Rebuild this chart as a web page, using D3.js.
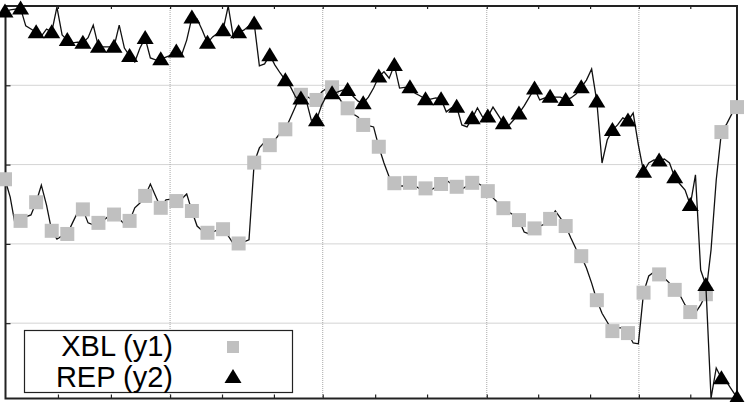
<!DOCTYPE html>
<html>
<head>
<meta charset="utf-8">
<script src="https://cdn.jsdelivr.net/npm/d3@7"></script>
<style>
  body { margin: 0; background: #fff; }
  svg { display: block; }
  text { font-family: "Liberation Sans", Arial, sans-serif; }
</style>
</head>
<body>
<div id="container"></div>
<script>
/* CONSTANTS AND GLOBALS */
const width = 751;
const height = 402;
const plot = { left: 5.5, right: 737, top: 6, bottom: 398.5 };
const pointEvery = 3; // a marker on every 3rd sample, like pointinterval

/* DATA */
const seriesNames = ["XBL (y1)", "REP (y2)"];

const xblValues = [
  56.3, 51.8, 44.5, 45.8, 46.8, 47.3, 50.5, 54.8, 49.8, 43.3, 41.2, 42.0,
  42.5, 45.3, 48.0, 48.7, 45.3, 44.8, 45.3, 46.0, 47.0, 47.4, 46.3, 45.0,
  45.8, 49.1, 50.3, 52.1, 55.1, 52.1, 49.1, 51.1, 51.3, 50.8, 51.3, 52.6,
  48.3, 44.5, 43.3, 42.8, 43.0, 43.5, 43.7, 42.0, 40.0, 40.1, 40.5, 41.0,
  60.5, 64.2, 65.7, 64.9, 66.2, 68.0, 68.9, 71.8, 74.8, 77.6, 77.3, 76.5,
  76.3, 78.3, 79.3, 79.5, 77.5, 75.5, 74.2, 72.8, 72.0, 70.0, 69.8, 69.5,
  64.5, 60.4, 56.9, 55.3, 54.6, 54.6, 55.4, 54.6, 53.8, 54.0, 53.6, 54.3,
  55.1, 56.1, 55.1, 54.4, 53.8, 54.6, 55.4, 55.3, 54.6, 53.3, 51.6, 50.3,
  49.0, 48.0, 47.3, 46.0, 43.0, 42.5, 43.9, 44.5, 45.0, 46.3, 48.3, 46.5,
  44.5, 41.5, 38.7, 36.9, 33.9, 30.1, 25.8, 22.5, 20.3, 18.0, 18.8, 18.8,
  17.5, 15.0, 14.8, 27.7, 31.9, 32.9, 32.3, 31.4, 30.1, 28.4, 27.1, 24.6,
  22.8, 22.6, 24.6, 27.3, 38.5, 56.1, 68.2, 70.2, 72.8, 74.5
];

const repValues = [
  98.6, 99.0, 99.2, 99.4, 95.0, 94.2, 93.4, 92.4, 94.2, 93.4, 99.7, 92.7,
  91.4, 90.7, 90.9, 90.7, 92.0, 95.2, 89.7, 89.7, 89.7, 89.7, 95.2, 89.4,
  87.4, 85.9, 89.4, 91.9, 86.9, 86.4, 86.6, 87.1, 87.6, 88.5, 87.6, 91.4,
  97.1, 96.7, 93.9, 90.7, 92.2, 93.2, 93.9, 100.0, 92.0, 93.4, 93.9, 95.0,
  95.6, 84.9, 85.4, 87.6, 85.1, 83.1, 81.3, 79.6, 77.0, 76.7, 76.3, 71.2,
  71.2, 75.0, 77.5, 78.0, 78.3, 78.8, 78.8, 77.3, 76.0, 75.5, 77.0, 79.3,
  82.2, 83.4, 81.8, 85.1, 79.3, 79.5, 79.5, 78.0, 77.3, 76.5, 76.5, 76.8,
  76.5, 73.3, 74.3, 74.6, 70.0, 69.5, 71.7, 74.3, 72.0, 72.1, 74.5, 72.5,
  70.4, 69.8, 71.3, 72.9, 74.8, 77.0, 79.2, 76.3, 76.8, 77.1, 77.0, 77.0,
  76.3, 76.8, 77.8, 79.5, 81.3, 84.1, 75.9, 60.4, 66.2, 68.7, 70.0, 71.8,
  71.1, 73.0, 65.0, 58.2, 60.4, 61.2, 61.0, 61.4, 60.4, 56.8, 55.1, 53.6,
  49.8, 57.4, 33.4, 29.6, 1.1, 8.7, 6.1, 5.2, 3.2, 1.2
];

// x ticks (sample index); gridlines only on the major ones
const xTicks = [10.2, 20.4, 31.8, 41.8, 51.8, 61.2, 71.3, 81.3, 92.8, 102.7, 112.7, 122.1, 132.0];
const xGrid = [31.8, 61.2, 92.8, 122.1];
const yGrid = [20, 40, 60, 80];

/* SCALES */
const xScale = d3.scaleLinear()
  .domain([0, xblValues.length - 1])
  .range([plot.left - 0.5, plot.right]);

const y1Scale = d3.scaleLinear()
  .domain([1, 100])
  .range([plot.bottom, plot.top]);

const y2Scale = d3.scaleLinear()
  .domain([1, 100])
  .range([plot.bottom, plot.top]);

/* HTML ELEMENTS */
const svg = d3.select("#container")
  .append("svg")
  .attr("width", width)
  .attr("height", height);

// grid
svg.append("g")
  .selectAll("line")
  .data(xGrid)
  .join("line")
  .attr("x1", d => xScale(d)).attr("x2", d => xScale(d))
  .attr("y1", plot.top).attr("y2", plot.bottom)
  .attr("stroke", "#a8a8a8")
  .attr("stroke-width", 1)
  .attr("stroke-dasharray", "1,1");

svg.append("g")
  .selectAll("line")
  .data(yGrid)
  .join("line")
  .attr("x1", plot.left).attr("x2", plot.right)
  .attr("y1", d => y1Scale(d)).attr("y2", d => y1Scale(d))
  .attr("stroke", "#a8a8a8")
  .attr("stroke-width", 1)
  .attr("stroke-dasharray", "1,1");

// axes without labels, ticks inward
const xBottom = d3.axisBottom(xScale).tickValues(xTicks).tickSize(-4).tickFormat("");
svg.append("g")
  .attr("transform", `translate(0,${plot.bottom})`)
  .call(xBottom)
  .call(g => g.select(".domain").remove());

const xTop = d3.axisTop(xScale).tickValues(xTicks).tickSize(-3).tickFormat("");
svg.append("g")
  .attr("transform", `translate(0,${plot.top})`)
  .call(xTop)
  .call(g => g.select(".domain").remove());

const yLeft = d3.axisLeft(y1Scale).tickValues(yGrid).tickSize(-5).tickFormat("");
svg.append("g")
  .attr("transform", `translate(${plot.left},0)`)
  .call(yLeft)
  .call(g => g.select(".domain").remove());

svg.selectAll(".tick line").attr("stroke", "#222").attr("stroke-width", 1.2);

// frame
svg.append("rect")
  .attr("x", plot.left)
  .attr("y", plot.top)
  .attr("width", plot.right - plot.left)
  .attr("height", plot.bottom - plot.top)
  .attr("fill", "none")
  .attr("stroke", "#222")
  .attr("stroke-width", 2);

// series
const squareSize = 14;
const triPath = "M0,-8L8.5,6L-8.5,6Z";

const lineXbl = d3.line()
  .x((d, i) => xScale(i))
  .y(d => y1Scale(d));

const lineRep = d3.line()
  .x((d, i) => xScale(i))
  .y(d => y2Scale(d));

svg.append("path")
  .datum(xblValues)
  .attr("d", lineXbl)
  .attr("fill", "none")
  .attr("stroke", "#111")
  .attr("stroke-width", 1.3);

svg.append("g")
  .selectAll("rect")
  .data(xblValues.map((v, i) => ({ i, v })).filter(d => d.i % pointEvery === 0))
  .join("rect")
  .attr("x", d => xScale(d.i) - squareSize / 2)
  .attr("y", d => y1Scale(d.v) - squareSize / 2)
  .attr("width", squareSize)
  .attr("height", squareSize)
  .attr("fill", "#c0c0c0");

svg.append("path")
  .datum(repValues)
  .attr("d", lineRep)
  .attr("fill", "none")
  .attr("stroke", "#111")
  .attr("stroke-width", 1.3);

svg.append("g")
  .selectAll("path")
  .data(repValues.map((v, i) => ({ i, v })).filter(d => d.i % pointEvery === 0))
  .join("path")
  .attr("d", triPath)
  .attr("transform", d => `translate(${xScale(d.i)},${y2Scale(d.v)})`)
  .attr("fill", "#000");

// legend
const legend = svg.append("g");
legend.append("rect")
  .attr("x", 24.5).attr("y", 330.5)
  .attr("width", 268).attr("height", 62)
  .attr("fill", "#fff")
  .attr("stroke", "#222")
  .attr("stroke-width", 1.2);

legend.selectAll("text")
  .data(seriesNames)
  .join("text")
  .attr("x", 173)
  .attr("y", (d, i) => 356 + i * 31)
  .attr("text-anchor", "end")
  .attr("font-size", 29)
  .attr("fill", "#000")
  .text(d => d);

legend.append("rect")
  .attr("x", 227)
  .attr("y", 341)
  .attr("width", 12)
  .attr("height", 12)
  .attr("fill", "#c0c0c0");

legend.append("path")
  .attr("d", triPath)
  .attr("transform", "translate(233,377)")
  .attr("fill", "#000");
</script>
</body>
</html>
